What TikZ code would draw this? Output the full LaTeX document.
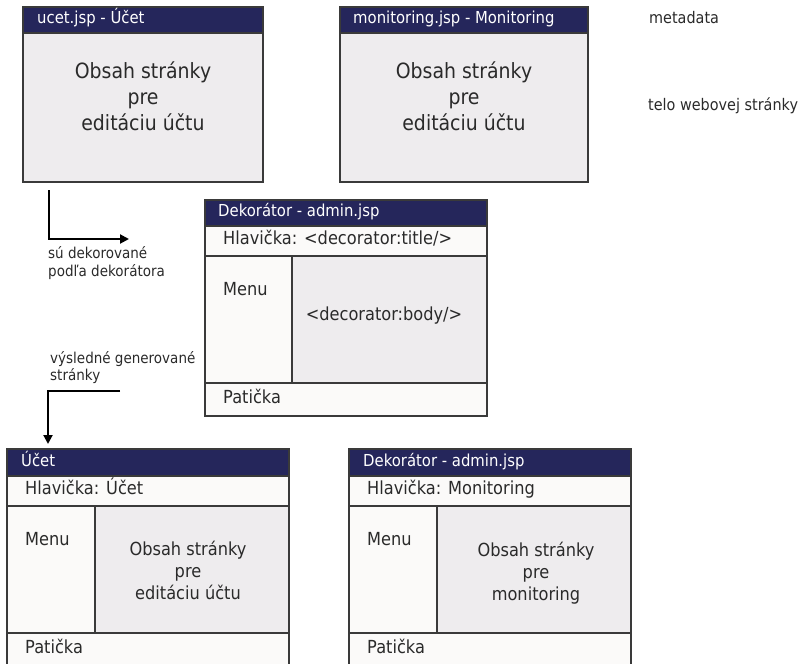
\documentclass[tikz,border=0pt]{standalone}
\usepackage{fontspec}
\setmainfont{DejaVu Sans}[FakeStretch=0.9]
\usetikzlibrary{arrows.meta}

\definecolor{navy}{HTML}{25265B}
\definecolor{paneGray}{HTML}{EEECEE}
\definecolor{paneWhite}{HTML}{FBFAF9}
\definecolor{frameCol}{HTML}{3A3A3A}
\definecolor{inkCol}{HTML}{2A2A2A}

\tikzset{
  pane/.style={draw=frameCol, line width=1.1pt, anchor=north west,
    inner sep=0pt, outer sep=0pt},
  titlebar/.style={pane, fill=navy},
  rule/.style={draw=frameCol, line width=1.1pt},
  titletext/.style={anchor=west, inner sep=0pt, text=white,
    font=\fontsize{16.5}{20}\selectfont, text height=.73em, text depth=0pt},
  rowtext/.style={anchor=west, inner sep=0pt, text=inkCol,
    font=\fontsize{18}{22}\selectfont, text height=.73em, text depth=0pt},
  bigbody/.style={align=center, inner sep=0pt, text=inkCol,
    font=\fontsize{21}{26}\selectfont},
  midbody/.style={align=center, inner sep=0pt, text=inkCol,
    font=\fontsize{18}{22}\selectfont},
  note/.style={anchor=west, inner sep=0pt, text=inkCol,
    font=\fontsize{15}{18}\selectfont, text height=.73em, text depth=0pt},
  legend/.style={anchor=west, inner sep=0pt, text=inkCol,
    font=\fontsize{16}{20}\selectfont, text height=.73em, text depth=0pt},
  flow/.style={line width=2pt, -{Triangle[length=9pt,width=9pt]}},
}

\begin{document}
\begin{tikzpicture}[x=1pt, y=-1pt]
\useasboundingbox (0,0) rectangle (804,664);

% ---- source page: ucet.jsp ----
\node[pane, fill=paneGray, minimum width=240pt, minimum height=175pt] (ucet) at (23,7) {};
\node[titlebar, minimum width=240pt, minimum height=26pt] (ucetbar) at (23,7) {};
\node[titletext] (ucettitle) at (37,20) {ucet.jsp - Účet};
\node[bigbody] (ucetbody) at (143,96) {Obsah stránky\\pre\\editáciu účtu};

% ---- source page: monitoring.jsp ----
\node[pane, fill=paneGray, minimum width=248pt, minimum height=175pt] (mon) at (340,7) {};
\node[titlebar, minimum width=248pt, minimum height=26pt] (monbar) at (340,7) {};
\node[titletext] (montitle) at (353,20) {monitoring.jsp - Monitoring};
\node[bigbody] (monbody) at (464,96) {Obsah stránky\\pre\\editáciu účtu};

% ---- legend ----
\node[legend] (legmeta) at (649,20) {metadata};
\node[legend] (legbody) at (648,107) {telo webovej stránky};

% ---- decorator template ----
\node[pane, fill=paneWhite, minimum width=282pt, minimum height=216pt] (deco) at (205,200) {};
\node[pane, fill=paneGray, minimum width=195pt, minimum height=127pt] (decobody) at (292,256) {};
\draw[rule] (205,256) -- (487,256);
\draw[rule] (205,383) -- (487,383);
\node[titlebar, minimum width=282pt, minimum height=26pt] (decobar) at (205,200) {};
\node[titletext] (decotitle) at (218,213) {Dekorátor - admin.jsp};
\node[rowtext] (decohead) at (223,241) {Hlavička: <decorator:title/>};
\node[rowtext] (decomenu) at (223,292) {Menu};
\node[midbody] (decocontent) at (384,316) {<decorator:body/>};
\node[rowtext] (decofoot) at (223,400) {Patička};

% ---- arrows and their notes ----
\coordinate (arrAstart) at (49,190);
\coordinate (arrAend) at (129,239);
\draw[flow] (arrAstart) |- (arrAend);
\node[note] (noteA1) at (48,255) {sú dekorované};
\node[note] (noteA2) at (48,273) {podľa dekorátora};

\node[note] (noteB1) at (50,360) {výsledné generované};
\node[note] (noteB2) at (50,377) {stránky};
\coordinate (arrBstart) at (120,391);
\coordinate (arrBend) at (48,444);
\draw[flow] (arrBstart) -| (arrBend);

% ---- result page: Účet ----
\node[pane, fill=paneWhite, minimum width=282pt, minimum height=221pt] (resA) at (7,449) {};
\node[pane, fill=paneGray, minimum width=194pt, minimum height=127pt] (resAbody) at (95,506) {};
\draw[rule] (7,506) -- (289,506);
\draw[rule] (7,633) -- (289,633);
\node[titlebar, minimum width=282pt, minimum height=27pt] (resAbar) at (7,449) {};
\node[titletext] (resAtitle) at (21,463) {Účet};
\node[rowtext] (resAhead) at (25,491) {Hlavička: Účet};
\node[rowtext] (resAmenu) at (25,542) {Menu};
\node[midbody] (resAcontent) at (188,570) {Obsah stránky\\pre\\editáciu účtu};
\node[rowtext] (resAfoot) at (25,650) {Patička};

% ---- result page: Monitoring ----
\node[pane, fill=paneWhite, minimum width=282pt, minimum height=221pt] (resB) at (349,449) {};
\node[pane, fill=paneGray, minimum width=194pt, minimum height=127pt] (resBbody) at (437,506) {};
\draw[rule] (349,506) -- (631,506);
\draw[rule] (349,633) -- (631,633);
\node[titlebar, minimum width=282pt, minimum height=27pt] (resBbar) at (349,449) {};
\node[titletext] (resBtitle) at (363,463) {Dekorátor - admin.jsp};
\node[rowtext] (resBhead) at (367,491) {Hlavička: Monitoring};
\node[rowtext] (resBmenu) at (367,542) {Menu};
\node[midbody] (resBcontent) at (536,573) {Obsah stránky\\pre\\monitoring};
\node[rowtext] (resBfoot) at (367,650) {Patička};
\end{tikzpicture}
\end{document}
